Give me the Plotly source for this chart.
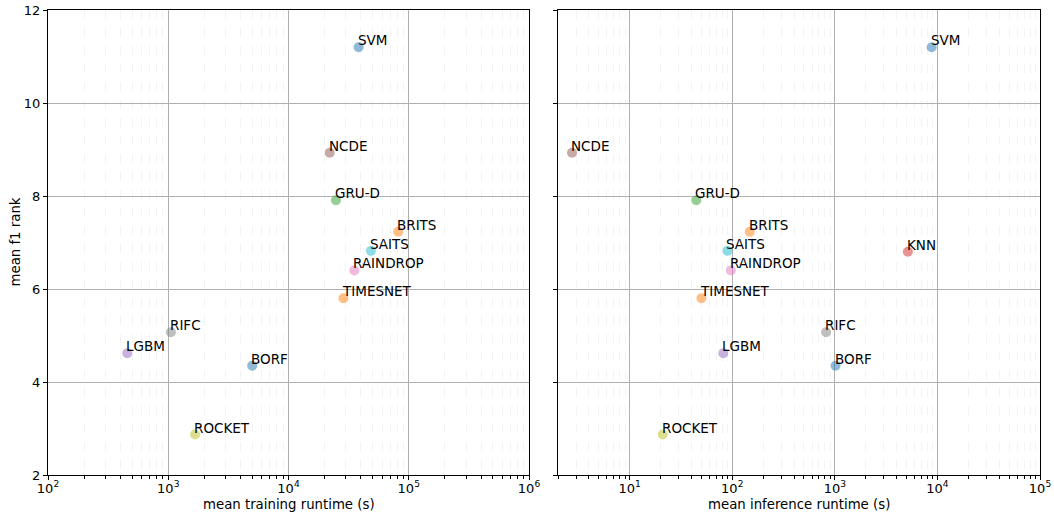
import math
import plotly.graph_objects as go

# ---------------- data ----------------
train_models = ["SVM", "NCDE", "GRU-D", "BRITS", "SAITS", "RAINDROP", "TIMESNET",
                "RIFC", "LGBM", "BORF", "ROCKET"]
train_runtime = [38300, 22000, 24800, 81700, 48500, 35300, 28600, 1052, 456, 4990, 1671]
train_rank = [11.20, 8.93, 7.91, 7.23, 6.82, 6.40, 5.80, 5.07, 4.62, 4.35, 2.87]

infer_models = ["SVM", "NCDE", "GRU-D", "BRITS", "SAITS", "RAINDROP", "TIMESNET",
                "KNN", "RIFC", "LGBM", "BORF", "ROCKET"]
infer_runtime = [8780, 2.74, 44.6, 148, 89.8, 97, 50, 5150, 822, 81.7, 1015, 21]
infer_rank = [11.20, 8.93, 7.91, 7.23, 6.82, 6.40, 5.80, 6.80, 5.07, 4.62, 4.35, 2.87]

model_colors = {
    "BORF": "#1f77b4", "BRITS": "#ff7f0e", "GRU-D": "#2ca02c", "KNN": "#d62728",
    "LGBM": "#9467bd", "NCDE": "#8c564b", "RAINDROP": "#e377c2", "RIFC": "#7f7f7f",
    "ROCKET": "#bcbd22", "SAITS": "#17becf", "SVM": "#1f77b4", "TIMESNET": "#ff7f0e",
}

left_ticks = [100, 1000, 10000, 100000, 1000000]
left_ticktext = ["10<sup>2</sup>", "10<sup>3</sup>", "10<sup>4</sup>", "10<sup>5</sup>", "10<sup>6</sup>"]
right_ticks = [10, 100, 1000, 10000, 100000]
right_ticktext = ["10<sup>1</sup>", "10<sup>2</sup>", "10<sup>3</sup>", "10<sup>4</sup>", "10<sup>5</sup>"]
y_ticks = [2, 4, 6, 8, 10, 12]
minor_mult = [2, 3, 4, 5, 6, 7, 8, 9]

x_title_left = "mean training runtime (s)"
x_title_right = "mean inference runtime (s)"
y_title = "mean f1 rank"


def minor_vals(lo_exp, hi_exp):
    return [m * 10 ** e for e in range(lo_exp, hi_exp) for m in minor_mult]


def rgba(hexc, a=0.5):
    h = hexc.lstrip("#")
    r, g, b = int(h[0:2], 16), int(h[2:4], 16), int(h[4:6], 16)
    return f"rgba({r},{g},{b},{a})"


FONT = "DejaVu Sans"
W, H = 1054, 519
L1, R1, L2, R2, TOP, BOT = 48, 529, 558, 1040, 10, 475


def fx(px):
    return px / W


def fy(py):
    return (H - py) / H


fig = go.Figure()

annotations = []
for models, xs, ys, xa, ya in [(train_models, train_runtime, train_rank, "x", "y"),
                               (infer_models, infer_runtime, infer_rank, "x2", "y2")]:
    fig.add_trace(go.Scatter(
        x=xs, y=ys, mode="markers", xaxis=xa, yaxis=ya,
        marker=dict(size=10, color=[rgba(model_colors[m]) for m in models], line=dict(width=0)),
        showlegend=False, hoverinfo="text", text=models,
    ))
    for m, xv, yv in zip(models, xs, ys):
        annotations.append(dict(
            x=math.log10(xv), y=yv, xref=xa, yref=ya, text=m, showarrow=False,
            xanchor="left", yanchor="bottom", xshift=-3, yshift=-3,
            font=dict(family=FONT, size=13.5, color="black"),
        ))

# axis titles as paper annotations for exact placement
annotations += [
    dict(x=fx((L1 + R1) / 2), y=fy(504), xref="paper", yref="paper", text=x_title_left,
         showarrow=False, xanchor="center", yanchor="middle",
         font=dict(family=FONT, size=13.3, color="black")),
    dict(x=fx((L2 + R2) / 2), y=fy(504), xref="paper", yref="paper", text=x_title_right,
         showarrow=False, xanchor="center", yanchor="middle",
         font=dict(family=FONT, size=13.3, color="black")),
    dict(x=fx(15), y=fy((TOP + BOT) / 2), xref="paper", yref="paper", text=y_title,
         showarrow=False, xanchor="center", yanchor="middle", textangle=-90,
         font=dict(family=FONT, size=13.3, color="black")),
]

GRID = "#b0b0b0"


def xaxis_cfg(lo, hi):
    return dict(
        type="log", showline=True, linecolor="black", linewidth=1, mirror=True,
        showgrid=True, gridcolor=GRID, gridwidth=1, ticks="outside", ticklen=4,
        tickcolor="black", tickfont=dict(family=FONT, size=13, color="black"),
        zeroline=False, automargin=False, ticklabeloverflow="allow",
        ticklabelstandoff=-3,
        minor=dict(tickmode="array", tickvals=minor_vals(lo, hi), ticks="outside",
                   ticklen=2.5, tickcolor="black", showgrid=True,
                   gridcolor="rgba(200,200,200,0.22)", griddash="dash", gridwidth=1),
    )


common_y = dict(
    range=[2, 12], tickvals=y_ticks, showline=True, linecolor="black", linewidth=1,
    mirror=True, showgrid=True, gridcolor=GRID, gridwidth=1, ticks="outside",
    ticklen=4, tickcolor="black", tickfont=dict(family=FONT, size=13, color="black"),
    zeroline=False, automargin=False, ticklabeloverflow="allow",
)

fig.update_layout(
    width=W, height=H,
    margin=dict(l=0, r=0, t=0, b=0),
    paper_bgcolor="white", plot_bgcolor="white",
    font=dict(family=FONT, size=13, color="black"),
    xaxis=dict(xaxis_cfg(2, 6), domain=[fx(L1), fx(R1)], range=[2, 6],
               tickvals=left_ticks, ticktext=left_ticktext),
    yaxis=dict(common_y, domain=[fy(BOT), fy(TOP)]),
    xaxis2=dict(xaxis_cfg(0, 5), domain=[fx(L2), fx(R2)], range=[math.log10(2), 5],
                tickvals=right_ticks, ticktext=right_ticktext, anchor="y2"),
    yaxis2=dict(common_y, domain=[fy(BOT), fy(TOP)], anchor="x2", showticklabels=False),
    annotations=annotations,
)

# remove the default 8px page margin so the figure fills the window exactly
fig.write_html("out.html", config={"displayModeBar": False},
               post_script="document.body.style.margin='0px';")
